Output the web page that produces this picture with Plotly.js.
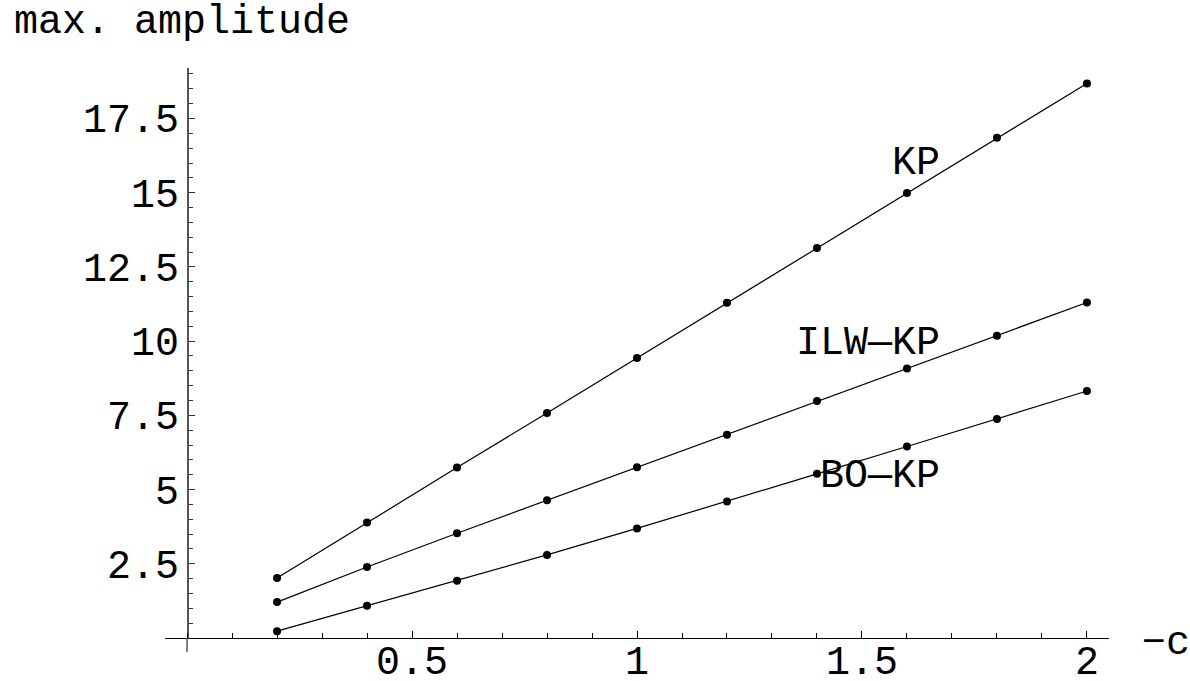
<!DOCTYPE html>
<html>
<head>
<meta charset="utf-8">
<script src="https://cdn.plot.ly/plotly-3.0.1.min.js"></script>
<style>html,body{margin:0;padding:0;background:#fff;}#chart{width:1190px;height:681px;}</style>
</head>
<body>
<div id="chart"></div>
<script>
// Data
const cValues = [0.2, 0.4, 0.6, 0.8, 1.0, 1.2, 1.4, 1.6, 1.8, 2.0];
const kpAmp   = [2.02, 3.89, 5.74, 7.58, 9.43, 11.29, 13.14, 14.99, 16.85, 18.68];
const ilwAmp  = [1.21, 2.39, 3.53, 4.64, 5.75, 6.85, 7.98, 9.08, 10.18, 11.30];
const boAmp   = [0.23, 1.09, 1.93, 2.80, 3.69, 4.60, 5.53, 6.45, 7.38, 8.32];

const xTickVals = [0.5, 1, 1.5, 2];
const xTickText = ["0.5", "1", "1.5", "2"];
const yTickVals = [2.5, 5, 7.5, 10, 12.5, 15, 17.5];
const yTickText = ["2.5", "5", "7.5", "10", "12.5", "15", "17.5"];

const seriesNames = ["KP", "ILW\u2014KP", "BO\u2014KP"];
const labelX = [1.677, 1.677, 1.677];
const labelY = [15.98, 9.92, 5.43];

const FONT = "Liberation Mono, Courier New, monospace";
const xRange = [-0.049, 2.049];
const yRange = [0, 19.2];

function mkTrace(y, name) {
  return {
    x: cValues, y: y, name: name, type: 'scatter', mode: 'lines+markers',
    line: {color: 'black', width: 1.2},
    marker: {color: 'black', size: 8},
    cliponaxis: false,
    hoverinfo: 'x+y'
  };
}

const traces = [mkTrace(kpAmp, seriesNames[0]), mkTrace(ilwAmp, seriesNames[1]), mkTrace(boAmp, seriesNames[2])];

const txtFont = {family: FONT, size: 40, color: 'black'};
const annotations = seriesNames.map((n, i) => ({
  x: labelX[i], y: labelY[i], xref: 'x', yref: 'y', text: n, showarrow: false,
  xanchor: 'right', yanchor: 'middle', font: txtFont
}));
// x tick labels, placed on the x scale just under the axis line
xTickVals.forEach((v, i) => annotations.push({
  x: v, y: -0.0023, xref: 'x', yref: 'paper', text: xTickText[i], showarrow: false,
  xanchor: 'center', yanchor: 'top', font: txtFont
}));
annotations.push({
  x: -0.1621, y: 1.079, xref: 'paper', yref: 'paper', text: 'max. amplitude', showarrow: false,
  xanchor: 'left', yanchor: 'middle', font: txtFont
});
annotations.push({
  x: 1.0604, y: -0.0095, xref: 'paper', yref: 'paper', text: '\u2212c', showarrow: false,
  xanchor: 'center', yanchor: 'middle', font: txtFont
});

const layout = {
  width: 1190, height: 681,
  margin: {l: 165, r: 81, t: 68, b: 43.3, pad: 0},
  paper_bgcolor: 'white', plot_bgcolor: 'white',
  showlegend: false,
  font: txtFont,
  xaxis: {
    range: xRange, anchor: 'y', side: 'bottom',
    showgrid: false, zeroline: false, showline: true, linecolor: 'black', linewidth: 1,
    tickmode: 'array', tickvals: xTickVals, ticktext: xTickText, showticklabels: false,
    ticks: 'inside', ticklen: 7, tickwidth: 1, tickcolor: 'black',
    minor: {tickmode: 'linear', tick0: 0, dtick: 0.1, ticks: 'inside', ticklen: 5, tickwidth: 1, tickcolor: 'black', showgrid: false}
  },
  yaxis: {
    range: yRange, anchor: 'free', position: (0 - xRange[0]) / (xRange[1] - xRange[0]),
    showgrid: false, zeroline: false, showline: true, linecolor: '#555', linewidth: 1.5,
    tickmode: 'array', tickvals: yTickVals, ticktext: yTickText,
    ticks: 'inside', ticklen: 6, tickwidth: 1, tickcolor: '#333',
    tickfont: txtFont,
    minor: {tickmode: 'linear', tick0: 0, dtick: 0.5, ticks: 'inside', ticklen: 4, tickwidth: 1, tickcolor: '#333', showgrid: false}
  },
  shapes: [{
    type: 'line', xref: 'x', yref: 'paper', x0: 0, x1: 0, y0: 0, y1: -14 / 569.7,
    line: {color: '#555', width: 1.5}
  }],
  annotations: annotations
};

Plotly.newPlot('chart', traces, layout, {staticPlot: true, displayModeBar: false});
</script>
</body>
</html>
